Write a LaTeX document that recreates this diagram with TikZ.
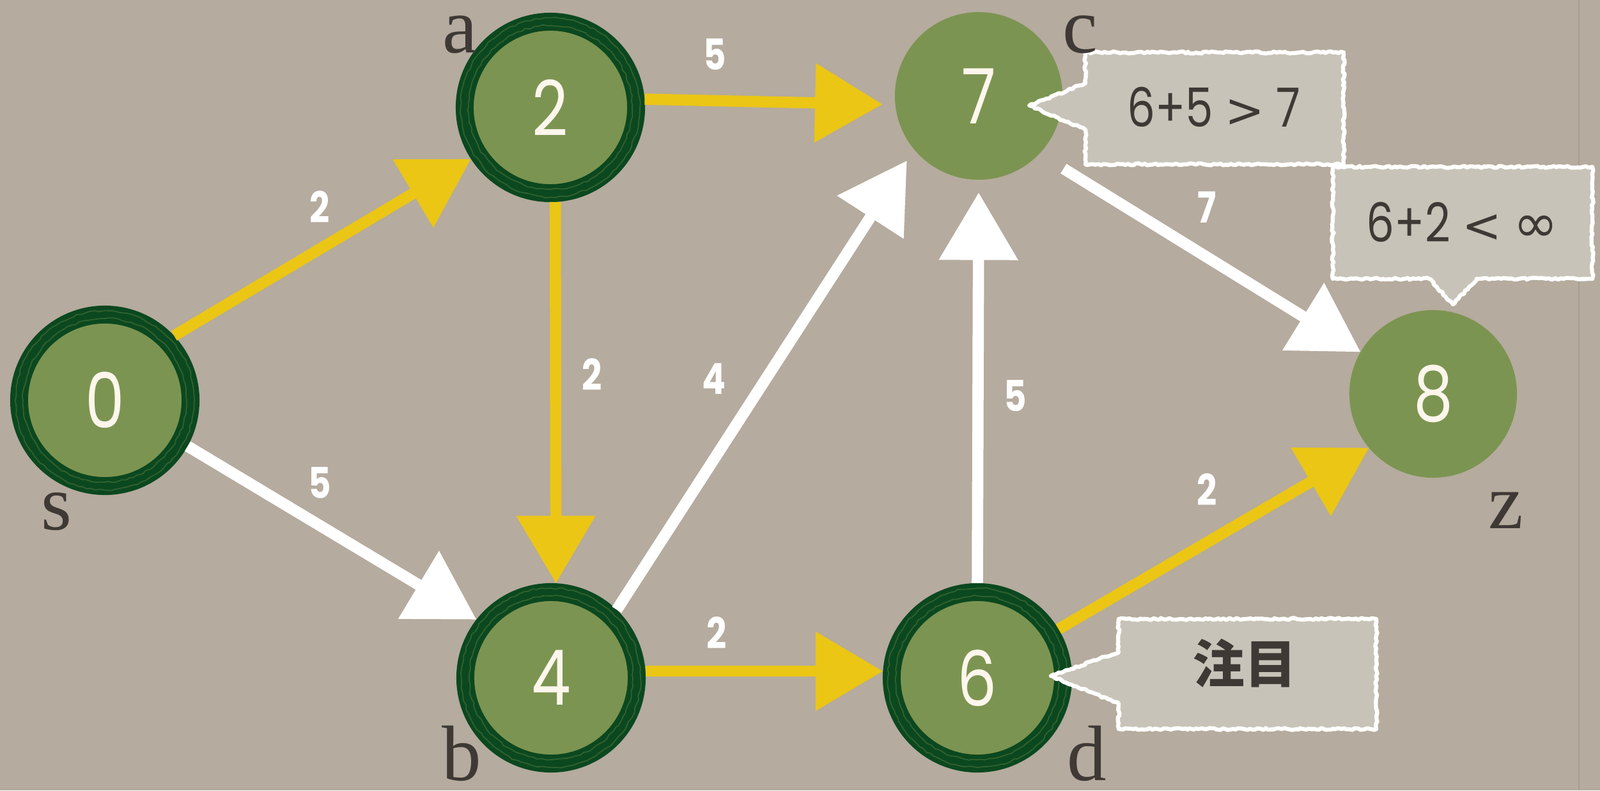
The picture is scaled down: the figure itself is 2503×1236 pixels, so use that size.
\documentclass[tikz,border=0pt]{standalone}
\usepackage{fontspec}
\setmainfont{Liberation Serif}
\newfontfamily\numfont{Poppins}[FakeStretch=0.82]
\newfontfamily\symfont{DejaVu Sans}
\newfontfamily\cjkfont{Noto Sans CJK JP}
\usetikzlibrary{arrows.meta,decorations.pathmorphing}
\definecolor{bgcol}{RGB}{181,171,158}
\definecolor{nodegreen}{RGB}{124,148,81}
\definecolor{ringdark}{RGB}{11,72,31}
\definecolor{arrowyellow}{RGB}{235,198,20}
\definecolor{calloutfill}{RGB}{200,195,184}
\definecolor{textdark}{RGB}{62,57,53}
\definecolor{digitcol}{RGB}{253,246,236}
\tikzset{
  ringnode/.style={circle, fill=nodegreen, draw=ringdark, line width=0.28cm, minimum size=2.68cm, inner sep=0pt, text=digitcol, font=\numfont\fontsize{34}{34}\selectfont},
  plainnode/.style={circle, fill=nodegreen, minimum size=2.62cm, inner sep=0pt, text=digitcol, font=\numfont\fontsize{34}{34}\selectfont},
  lettr/.style={text=textdark, font=\fontsize{35}{35}\selectfont, inner sep=0pt},
  wlabel/.style={text=white, font=\numfont\bfseries\fontsize{19}{19}\selectfont, inner sep=0pt},
  yarrow/.style={draw=arrowyellow, line width=5pt, -{Triangle[length=30pt,width=34pt]}},
  warrow/.style={draw=white, line width=5pt, -{Triangle[length=30pt,width=34pt]}},
  calloutfillstyle/.style={fill=calloutfill},
  calloutborder/.style={draw=white, line width=1.8pt, line join=round, decorate, decoration={random steps,segment length=1.2pt,amplitude=0.45pt}},
  callouttext/.style={text=textdark, font=\numfont\fontsize{24}{24}\selectfont, inner sep=0pt},
  brush/.style={draw=nodegreen, opacity=0.35, line width=0.5pt, decorate, decoration={random steps, segment length=2pt, amplitude=0.4pt}},
}
\newcommand{\relsym}[1]{{\symfont\fontsize{21}{21}\selectfont #1}}
\begin{document}
\begin{tikzpicture}[x=0.01cm,y=-0.01cm]
\useasboundingbox (0,0) rectangle (2503,1236);
\fill[bgcol] (0,0) rectangle (2503,1236);
\draw[line width=0.6pt, draw=black, opacity=0.08] (2470,0) -- (2470,1236);

% nodes
\node[ringnode] (s) at (164,626) {0};
\node[ringnode] (a) at (861,168) {2};
\node[ringnode] (b) at (862,1060) {4};
\node[ringnode] (d) at (1529,1060) {6};
\node[plainnode, outer sep=0.2cm] (c) at (1531,150) {7};
\node[plainnode, outer sep=0pt] (z) at (2242,616) {8};
\foreach \n in {s,a,b,d} {
  \draw[brush] (\n.center) circle[radius=140];
  \draw[brush] (\n.center) circle[radius=128];
}

% edges
\draw[yarrow] (s.43) -- (a.213);
\draw[yarrow] (a.5) -- (c.185);
\draw[yarrow] (a.273) -- (b.87);
\draw[warrow] (s.-29) -- (b.142);
\draw[warrow] (b.46) -- (c.222);
\draw[yarrow] (b.4) -- (d.176);
\draw[warrow] (d.90) -- (c.270);
\draw[warrow, shorten <=0.24cm] (c.-42) -- (z.150);
\draw[yarrow] (d.31) -- (z.220);

% edge weights
\node[wlabel] (w1) at (500,324) {2};
\node[wlabel] (w2) at (500,755) {5};
\node[wlabel] (w3) at (1118,85) {5};
\node[wlabel] (w4) at (926,586) {2};
\node[wlabel] (w5) at (1117,592) {4};
\node[wlabel] (w6) at (1121,990) {2};
\node[wlabel] (w7) at (1588,619) {5};
\node[wlabel] (w8) at (1888,324) {7};
\node[wlabel] (w9) at (1888,766) {2};

% callouts
\fill[calloutfillstyle] (1698,203) -- (1610,165) -- (1698,130) -- (1698,82) -- (2102,82) -- (2102,257) -- (1698,257) -- cycle;
\draw[calloutborder] (1698,203) -- (1610,165) -- (1698,130) -- (1698,82) -- (2102,82) -- (2102,257) -- (1698,257) -- cycle;
\node[callouttext] (co1) at (1899,167) {6+5 \relsym{>} 7};

\fill[calloutfillstyle] (2310,436) -- (2273,476) -- (2236,436) -- (2085,436) -- (2085,261) -- (2491,261) -- (2491,436) -- cycle;
\draw[calloutborder] (2310,436) -- (2273,476) -- (2236,436) -- (2085,436) -- (2085,261) -- (2491,261) -- (2491,436) -- cycle;
\node[callouttext] (co2) at (2288,347) {6+2 \relsym{<} {\symfont ∞}};

\fill[calloutfillstyle] (1750,1100) -- (1644,1057) -- (1750,1020) -- (1750,968) -- (2153,968) -- (2153,1140) -- (1750,1140) -- cycle;
\draw[calloutborder] (1750,1100) -- (1644,1057) -- (1750,1020) -- (1750,968) -- (2153,968) -- (2153,1140) -- (1750,1140) -- cycle;
\node[callouttext, font=\cjkfont\bfseries\fontsize{23}{23}\selectfont] (co3) at (1947,1037) {注目};

% vertex letters (on top)
\node[lettr] (ls) at (88,800) {s};
\node[lettr] (la) at (720,54) {a};
\node[lettr] (lb) at (722,1178) {b};
\node[lettr] (lc) at (1690,54) {c};
\node[lettr] (ld) at (1700,1178) {d};
\node[lettr] (lz) at (2356,798) {z};
\end{tikzpicture}
\end{document}
